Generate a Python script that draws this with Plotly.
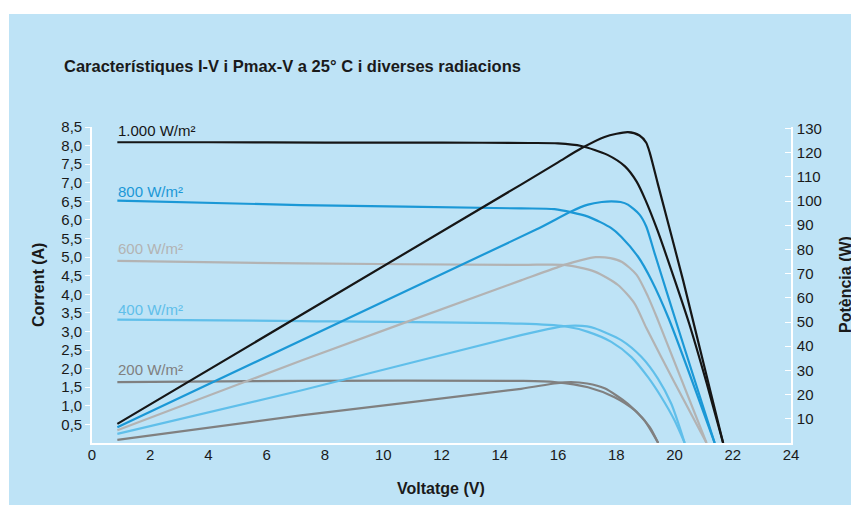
import plotly.graph_objects as go

# ---------------- data ----------------
# 1000 W/m2
v_iv_1000 = [0.87, 4.0, 8.0, 12.0, 15.0, 16.0, 16.8, 17.7, 18.3, 18.7, 19.0, 19.4, 20.0, 20.5, 21.1, 21.67]
i_1000 = [8.09, 8.09, 8.08, 8.08, 8.07, 8.06, 7.99, 7.75, 7.44, 7.03, 6.54, 5.75, 4.4, 3.22, 1.62, 0.0]
v_pv_1000 = [0.87, 14.73, 16.0, 16.8, 17.6, 18.4, 18.8, 19.03, 19.15, 19.43, 20.3, 21.67]
p_1000 = [7.9, 106.8, 116.0, 121.8, 126.5, 128.5, 127.1, 124.1, 120.0, 107.0, 67.0, 0.0]

# 800 W/m2
v_iv_800 = [0.87, 7.17, 14.73, 15.88, 17.03, 17.83, 18.17, 18.75, 19.21, 19.8, 21.38]
i_800 = [6.52, 6.40, 6.31, 6.29, 6.09, 5.78, 5.55, 5.01, 4.38, 3.35, 0.0]
v_pv_800 = [0.87, 15.25, 16.45, 17.03, 17.5, 17.83, 18.15, 18.4, 18.8, 19.03, 19.32, 19.78, 20.24, 21.38]
p_800 = [6.5, 88.2, 95.7, 98.5, 99.6, 99.9, 99.6, 98.5, 94.4, 89.5, 78.3, 60.6, 43.1, 0.0]

# 600 W/m2
v_iv_600 = [0.87, 7.17, 14.73, 16.22, 17.26, 18.06, 18.63, 19.03, 20.0, 21.1]
i_600 = [4.90, 4.83, 4.79, 4.79, 4.61, 4.25, 3.75, 3.10, 1.63, 0.0]
v_pv_600 = [0.87, 7.17, 14.73, 16.22, 16.8, 17.3, 17.8, 18.2, 18.7, 19.09, 19.43, 21.1]
p_600 = [5.3, 34.0, 67.2, 73.6, 75.6, 76.8, 76.4, 74.8, 69.5, 60.5, 50.8, 0.0]

# 400 W/m2
v_iv_400 = [0.87, 7.17, 14.73, 16.22, 17.03, 17.83, 18.52, 19.09, 19.55, 20.0, 20.35]
i_400 = [3.32, 3.28, 3.21, 3.14, 2.99, 2.72, 2.31, 1.77, 1.23, 0.61, 0.0]
v_pv_400 = [0.87, 7.17, 14.73, 15.88, 16.25, 16.6, 17.0, 17.26, 18.17, 18.86, 19.43, 19.89, 20.35]
p_400 = [3.8, 21.7, 44.6, 47.6, 48.3, 48.5, 48.2, 47.4, 42.5, 35.6, 26.6, 16.2, 0.0]

# 200 W/m2
v_iv_200 = [0.87, 7.17, 14.73, 15.88, 17.03, 17.94, 18.63, 19.15, 19.44]
i_200 = [1.64, 1.67, 1.67, 1.64, 1.50, 1.23, 0.88, 0.43, 0.0]
v_pv_200 = [0.87, 7.17, 14.73, 15.88, 16.45, 17.0, 17.6, 18.4, 18.97, 19.44]
p_200 = [1.3, 11.4, 22.4, 24.6, 25.2, 24.6, 22.6, 16.2, 9.3, 0.0]

series_labels = ["1.000 W/m²", "800 W/m²", "600 W/m²", "400 W/m²", "200 W/m²"]
series_colors = ["#161616", "#1b98d6", "#b3b3b3", "#60bfea", "#808080"]

x_ticks = list(range(0, 25, 2))
y_ticks = [0.5 * k for k in range(1, 18)]
y2_ticks = list(range(10, 131, 10))

title_text = "Característiques I-V i Pmax-V a 25° C i diverses radiacions"
x_title = "Voltatge (V)"
y_title = "Corrent (A)"
y2_title = "Potència (W)"

# ---------------- figure ----------------
BG = "#bee3f6"
FONT = "Liberation Sans, Arial, sans-serif"

iv = [(v_iv_1000, i_1000), (v_iv_800, i_800), (v_iv_600, i_600), (v_iv_400, i_400), (v_iv_200, i_200)]
pv = [(v_pv_1000, p_1000), (v_pv_800, p_800), (v_pv_600, p_600), (v_pv_400, p_400), (v_pv_200, p_200)]

fig = go.Figure()
for (vx, iy), (px, py), lab, col in zip(iv, pv, series_labels, series_colors):
    fig.add_trace(go.Scatter(x=vx, y=iy, mode="lines", name=lab, yaxis="y",
                             line=dict(color=col, width=2.2, shape="spline", smoothing=0.7),
                             showlegend=False))
    fig.add_trace(go.Scatter(x=px, y=py, mode="lines", name=lab + " Pmax", yaxis="y2",
                             line=dict(color=col, width=2.2, shape="spline", smoothing=0.7),
                             showlegend=False))

# the page body has an 8px margin, so the figure sits at page (8, 8)
OFF = 8
W, H = 859 - OFF, 505 - OFF
PL, PR, PT, PB = 92, 791, 127, 443          # plot area in page pixels
ML, MR, MT, MB = PL - OFF, 859 - PR, PT - OFF, 505 - PB
pw, ph = PR - PL, PB - PT

def px_x(p):
    return (p - PL) / pw

def px_y(p):
    return (PB - p) / ph

annotations = [
    dict(text="<b>" + title_text + "</b>", x=px_x(62), y=px_y(66), xref="paper", yref="paper",
         xanchor="left", yanchor="middle", showarrow=False, font=dict(size=16.5, color="#1a1a1a", family=FONT)),
    dict(text="<b>" + x_title + "</b>", x=px_x(441), y=px_y(488), xref="paper", yref="paper",
         xanchor="center", yanchor="middle", showarrow=False, font=dict(size=16, color="#1a1a1a", family=FONT)),
    dict(text="<b>" + y_title + "</b>", x=px_x(38), y=px_y(285), xref="paper", yref="paper",
         xanchor="center", yanchor="middle", textangle=-90, showarrow=False,
         font=dict(size=16, color="#1a1a1a", family=FONT)),
    dict(text="<b>" + y2_title + "</b>", x=px_x(845), y=px_y(285), xref="paper", yref="paper",
         xanchor="center", yanchor="middle", textangle=-90, showarrow=False,
         font=dict(size=16, color="#1a1a1a", family=FONT)),
]
label_y = [130, 191, 248, 309, 369]
for lab, col, yy in zip(series_labels, series_colors, label_y):
    annotations.append(dict(text=lab, x=px_x(116), y=px_y(yy), xref="paper", yref="paper",
                            xanchor="left", yanchor="middle", showarrow=False,
                            font=dict(size=15, color=col, family=FONT)))

shapes = [
    dict(type="rect", xref="paper", yref="paper", x0=px_x(0), x1=px_x(9), y0=px_y(520), y1=px_y(0),
         fillcolor="white", line=dict(width=0), layer="below"),
    dict(type="rect", xref="paper", yref="paper", x0=px_x(0), x1=px_x(870), y0=px_y(14), y1=px_y(0),
         fillcolor="white", line=dict(width=0), layer="below"),
]

fig.update_layout(
    width=W, height=H,
    margin=dict(l=ML, r=MR, t=MT, b=MB, pad=0),
    paper_bgcolor=BG, plot_bgcolor=BG,
    separators=",.",
    font=dict(family=FONT, size=15, color="#1a1a1a"),
    showlegend=False,
    annotations=annotations,
    shapes=shapes,
    xaxis=dict(range=[0, 24], tickvals=x_ticks, showgrid=False, zeroline=False,
               showline=True, linecolor="white", linewidth=1.6, ticks="",
               tickfont=dict(size=15), ticklabelstandoff=-3, fixedrange=True),
    yaxis=dict(range=[0, 8.5], tickvals=y_ticks, tickformat=".1f", showgrid=False, zeroline=False,
               showline=True, linecolor="white", linewidth=1.6, ticks="outside", ticklen=5,
               tickcolor="white", tickwidth=1.4, tickfont=dict(size=15)),
    yaxis3=dict(range=[0, 8.5], tickvals=y_ticks, overlaying="y", side="left", anchor="x",
                showgrid=False, zeroline=False, showline=False, ticks="inside", ticklen=5,
                tickcolor="white", tickwidth=1.4, showticklabels=False),
    yaxis2=dict(range=[0, 130.6], tickvals=y2_ticks, overlaying="y", side="right", anchor="x",
                showgrid=False, zeroline=False, showline=True, linecolor="white", linewidth=1.6,
                ticks="inside", ticklen=6, tickcolor="white", tickwidth=1.4,
                tickfont=dict(size=15), ticklabelstandoff=1),
)

fig.write_html("out.html")
